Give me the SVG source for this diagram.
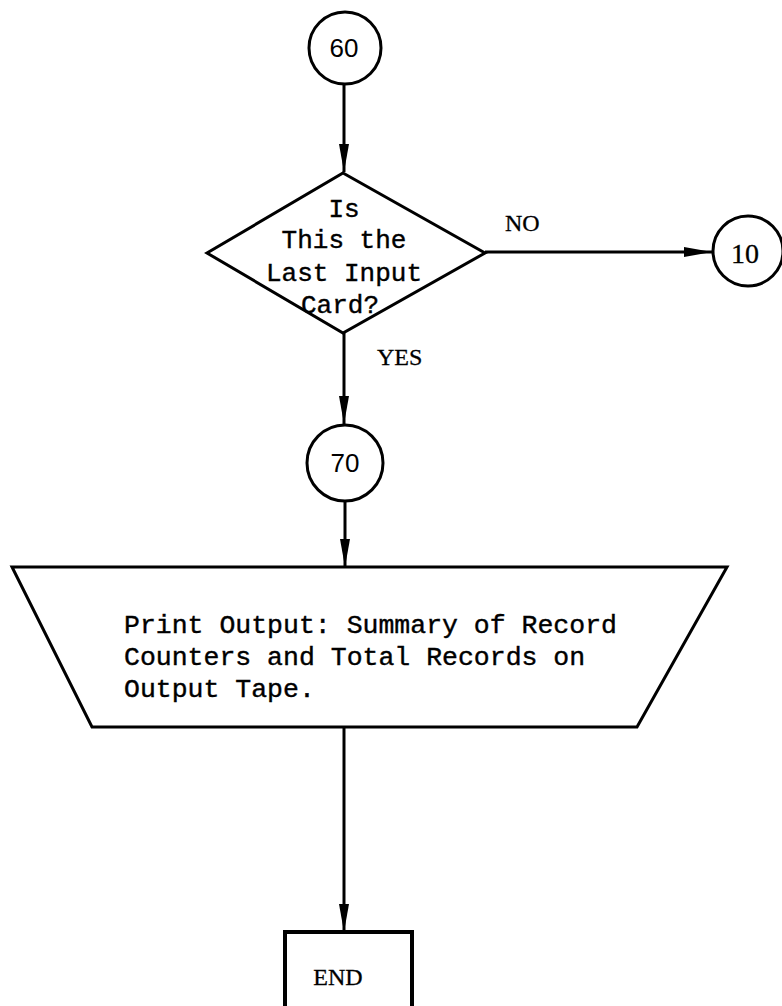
<svg xmlns="http://www.w3.org/2000/svg" width="782" height="1006" viewBox="0 0 782 1006">
<defs>
<style>
.shape{fill:#fff;stroke:#000;stroke-width:3}
.conn{fill:none;stroke:#000;stroke-width:3}
.mono{font-family:"Liberation Mono","DejaVu Sans Mono",monospace;font-size:26px;fill:#000;stroke:#000;stroke-width:0.4}
.sans{font-family:"Liberation Sans",Arial,sans-serif;font-size:26px;fill:#000}
.serif{font-family:"Liberation Serif","Times New Roman",serif;font-size:24px;fill:#000;stroke:#000;stroke-width:0.3}
</style>
<marker id="arr" markerUnits="userSpaceOnUse" viewBox="0 0 28 12" refX="28" refY="6" markerWidth="28" markerHeight="12" orient="auto">
<path d="M0,1 L28,6 L0,11 Z" fill="#000"/>
</marker>
</defs>
<rect width="782" height="1006" fill="#fff"/>
<g id="connectors">
<line class="conn" x1="344" y1="83" x2="344" y2="172" marker-end="url(#arr)"/>
<line class="conn" x1="485" y1="252" x2="712" y2="252" marker-end="url(#arr)"/>
<line class="conn" x1="344" y1="333" x2="344" y2="424" marker-end="url(#arr)"/>
<line class="conn" x1="345" y1="501" x2="345" y2="567" marker-end="url(#arr)"/>
<line class="conn" x1="344" y1="727" x2="344" y2="932" marker-end="url(#arr)"/>
<text class="serif" x="505" y="231">NO</text>
<text class="serif" x="377" y="365">YES</text>
</g>
<g id="node-60">
<circle class="shape" cx="345" cy="48" r="36"/>
<text class="sans" x="344" y="57" text-anchor="middle">60</text>
</g>
<g id="node-decision">
<polygon class="shape" points="343,173 485,253 343,333 207,253"/>
<text class="mono" x="344" y="217" text-anchor="middle">Is</text>
<text class="mono" x="344" y="248" text-anchor="middle">This the</text>
<text class="mono" x="344" y="281" text-anchor="middle">Last Input</text>
<text class="mono" x="340" y="313" text-anchor="middle">Card?</text>
</g>
<g id="node-10">
<circle class="shape" cx="748" cy="251" r="35"/>
<text class="serif" x="745" y="263" text-anchor="middle" style="font-size:28px">10</text>
</g>
<g id="node-70">
<circle class="shape" cx="345" cy="463" r="38"/>
<text class="sans" x="345" y="472" text-anchor="middle">70</text>
</g>
<g id="node-print">
<polygon class="shape" points="12,567 727,567 637,727 92,727"/>
<text class="mono" x="124" y="633" style="font-size:26.5px">Print Output: Summary of Record</text>
<text class="mono" x="124" y="665" style="font-size:26.5px">Counters and Total Records on</text>
<text class="mono" x="124" y="697" style="font-size:26.5px">Output Tape.</text>
</g>
<g id="node-end">
<rect class="shape" x="285" y="932" width="127" height="84" style="stroke-width:4"/>
<text class="serif" x="338" y="985" text-anchor="middle">END</text>
</g>
</svg>
